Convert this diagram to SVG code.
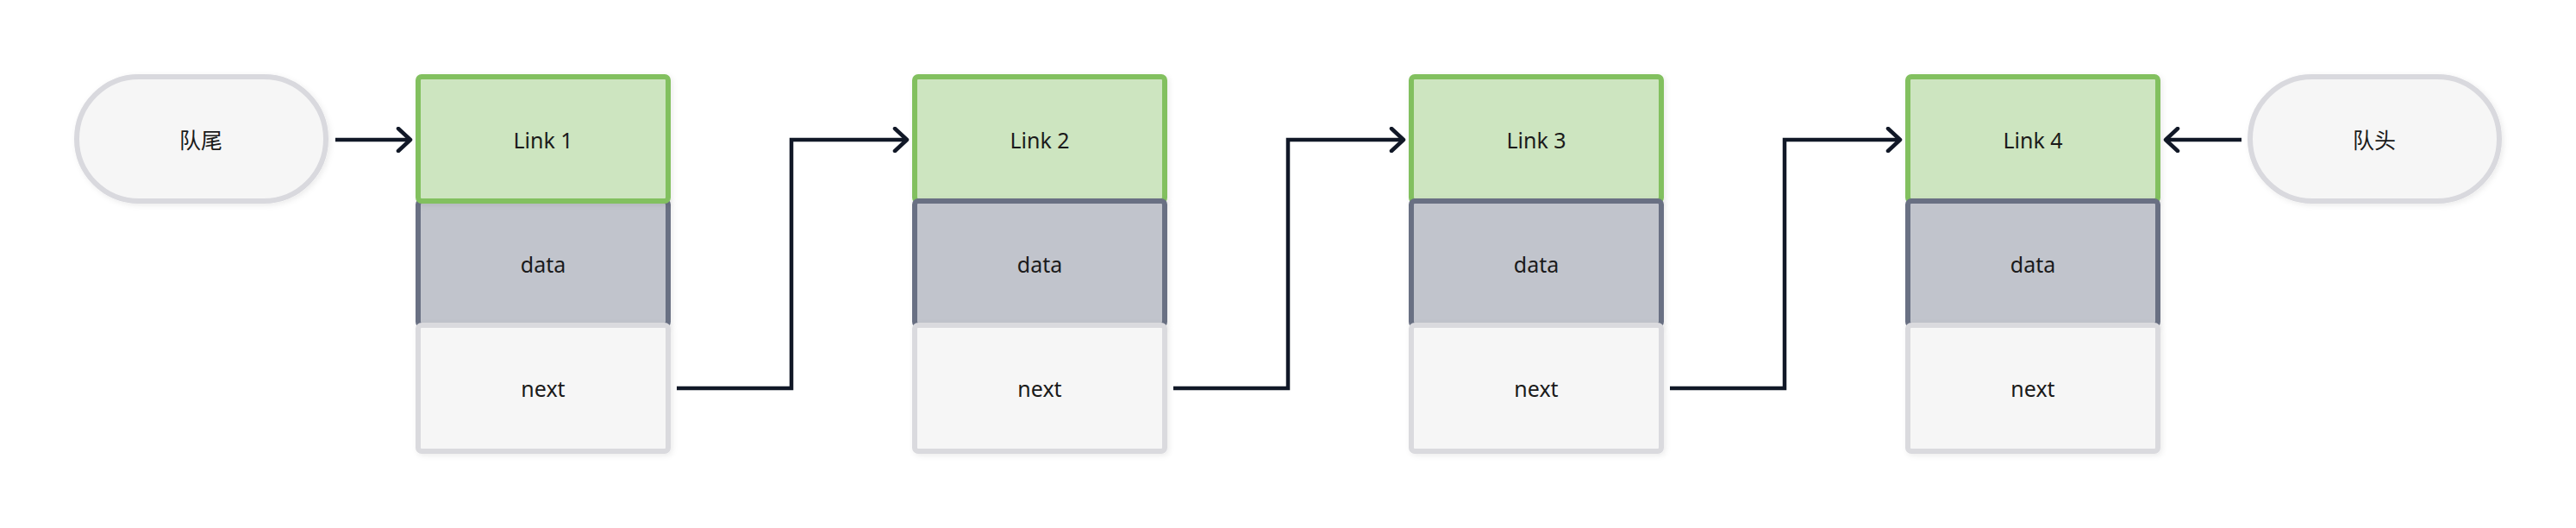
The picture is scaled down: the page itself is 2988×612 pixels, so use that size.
<svg xmlns="http://www.w3.org/2000/svg" width="2988" height="612" viewBox="0 0 2988 612">
  <defs>
    <style>
      .head { fill: #cde5c0; stroke: #82c05f; stroke-width: 6; }
      .data { fill: #c1c4cc; stroke: #697083; stroke-width: 6; }
      .next { fill: #f6f6f6; stroke: #dadade; stroke-width: 6; }
      .pill { fill: #f6f6f6; stroke: #d9d9de; stroke-width: 6; }
      .lbl { font-family: "Noto Sans", "Noto Sans CJK SC", sans-serif; font-size: 25px; fill: #1a1a1a; text-anchor: middle; }
      .conn { fill: none; stroke: #111827; stroke-width: 4.5; stroke-linejoin: miter; }
    </style>
    <filter id="sh" x="-10%" y="-10%" width="130%" height="130%">
      <feDropShadow dx="2" dy="2" stdDeviation="3" flood-color="#000" flood-opacity="0.08"/>
    </filter>
    <marker id="arr" viewBox="0 0 20 30" refX="17" refY="15" markerWidth="20" markerHeight="30" markerUnits="userSpaceOnUse" orient="auto">
      <path d="M3,2 L17,15 L3,28" fill="none" stroke="#111827" stroke-width="4.5" stroke-linecap="round" stroke-linejoin="round"/>
    </marker>
  </defs>
  <rect width="2988" height="612" fill="#ffffff"/>

  <g id="tail">
    <rect class="pill" x="89" y="89" width="289" height="144" rx="72" filter="url(#sh)"/>
    <text class="lbl" x="233" y="172">队尾</text>
  </g>

  <g id="link1">
    <rect class="data" x="485" y="233" width="290" height="144" rx="4" filter="url(#sh)"/>
    <rect class="head" x="485" y="89" width="290" height="144" rx="4" filter="url(#sh)"/>
    <rect class="next" x="485" y="377" width="290" height="146" rx="4" filter="url(#sh)"/>
    <text class="lbl" x="630" y="172">Link 1</text>
    <text class="lbl" x="630" y="316">data</text>
    <text class="lbl" x="630" y="460">next</text>
  </g>

  <g id="link2">
    <rect class="head" x="1061" y="89" width="290" height="144" rx="4" filter="url(#sh)"/>
    <rect class="data" x="1061" y="233" width="290" height="144" rx="4" filter="url(#sh)"/>
    <rect class="next" x="1061" y="377" width="290" height="146" rx="4" filter="url(#sh)"/>
    <text class="lbl" x="1206" y="172">Link 2</text>
    <text class="lbl" x="1206" y="316">data</text>
    <text class="lbl" x="1206" y="460">next</text>
  </g>

  <g id="link3">
    <rect class="head" x="1637" y="89" width="290" height="144" rx="4" filter="url(#sh)"/>
    <rect class="data" x="1637" y="233" width="290" height="144" rx="4" filter="url(#sh)"/>
    <rect class="next" x="1637" y="377" width="290" height="146" rx="4" filter="url(#sh)"/>
    <text class="lbl" x="1782" y="172">Link 3</text>
    <text class="lbl" x="1782" y="316">data</text>
    <text class="lbl" x="1782" y="460">next</text>
  </g>

  <g id="link4">
    <rect class="head" x="2213" y="89" width="290" height="144" rx="4" filter="url(#sh)"/>
    <rect class="data" x="2213" y="233" width="290" height="144" rx="4" filter="url(#sh)"/>
    <rect class="next" x="2213" y="377" width="290" height="146" rx="4" filter="url(#sh)"/>
    <text class="lbl" x="2358" y="172">Link 4</text>
    <text class="lbl" x="2358" y="316">data</text>
    <text class="lbl" x="2358" y="460">next</text>
  </g>

  <g id="head">
    <rect class="pill" x="2610" y="89" width="289" height="144" rx="72" filter="url(#sh)"/>
    <text class="lbl" x="2754" y="172">队头</text>
  </g>

  <g id="connectors">
    <path class="conn" d="M389,162 L476,162" marker-end="url(#arr)"/>
    <path class="conn" d="M785,450 L918,450 L918,162 L1052,162" marker-end="url(#arr)"/>
    <path class="conn" d="M1361,450 L1494,450 L1494,162 L1628,162" marker-end="url(#arr)"/>
    <path class="conn" d="M1937,450 L2070,450 L2070,162 L2204,162" marker-end="url(#arr)"/>
    <path class="conn" d="M2600,162 L2512,162" marker-end="url(#arr)"/>
  </g>
</svg>
